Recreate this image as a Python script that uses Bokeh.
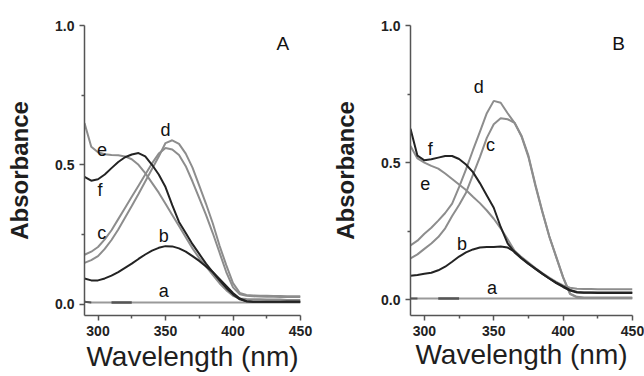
from bokeh.plotting import figure
from bokeh.layouts import row
from bokeh.models import FixedTicker, PrintfTickFormatter, Label, Range1d
from bokeh.embed import file_html
from bokeh.resources import INLINE

# ---------------- data ----------------
wavelength = [290, 295, 300, 305, 310, 315, 320, 325, 330, 335, 340, 345, 350,
              355, 360, 365, 370, 375, 380, 385, 390, 395, 400, 405, 410, 415,
              420, 425, 430, 435, 440, 445, 450]

# Panel A
a_A = [0.008, 0.006, 0.006, 0.006, 0.006, 0.006, 0.006, 0.006, 0.006, 0.006, 0.006,
       0.006, 0.006, 0.006, 0.006, 0.006, 0.006, 0.006, 0.006, 0.006, 0.006, 0.006,
       0.006, 0.006, 0.006, 0.006, 0.006, 0.006, 0.006, 0.006, 0.006, 0.006, 0.006]
b_A = [0.092, 0.085, 0.085, 0.092, 0.102, 0.115, 0.130, 0.145, 0.162, 0.178, 0.192,
       0.202, 0.208, 0.207, 0.200, 0.188, 0.172, 0.155, 0.135, 0.115, 0.090, 0.065,
       0.040, 0.020, 0.010, 0.008, 0.008, 0.008, 0.008, 0.008, 0.008, 0.008, 0.008]
c_A = [0.177, 0.188, 0.205, 0.232, 0.265, 0.305, 0.345, 0.385, 0.425, 0.465, 0.505,
       0.540, 0.560, 0.555, 0.535, 0.495, 0.440, 0.380, 0.320, 0.255, 0.185, 0.115,
       0.060, 0.035, 0.030, 0.028, 0.027, 0.026, 0.026, 0.025, 0.025, 0.025, 0.025]
d_A = [0.148, 0.158, 0.172, 0.198, 0.230, 0.268, 0.310, 0.352, 0.395, 0.440, 0.485,
       0.530, 0.578, 0.588, 0.575, 0.540, 0.490, 0.425, 0.360, 0.290, 0.210, 0.140,
       0.075, 0.040, 0.033, 0.031, 0.030, 0.030, 0.029, 0.029, 0.028, 0.028, 0.028]
e_A = [0.650, 0.565, 0.545, 0.538, 0.535, 0.534, 0.530, 0.520, 0.500, 0.470, 0.435,
       0.400, 0.360, 0.320, 0.280, 0.240, 0.200, 0.165, 0.135, 0.105, 0.075, 0.050,
       0.030, 0.020, 0.018, 0.017, 0.017, 0.016, 0.016, 0.016, 0.015, 0.015, 0.015]
f_A = [0.457, 0.443, 0.448, 0.465, 0.488, 0.510, 0.527, 0.537, 0.542, 0.530, 0.500,
       0.465, 0.420, 0.355, 0.295, 0.255, 0.215, 0.180, 0.145, 0.115, 0.085, 0.058,
       0.035, 0.017, 0.010, 0.008, 0.008, 0.008, 0.008, 0.008, 0.008, 0.008, 0.008]

# Panel B
a_B = [0.004, 0.004, 0.004, 0.004, 0.004, 0.004, 0.004, 0.004, 0.004, 0.004, 0.004,
       0.004, 0.004, 0.004, 0.004, 0.004, 0.004, 0.004, 0.004, 0.004, 0.004, 0.004,
       0.004, 0.004, 0.004, 0.004, 0.004, 0.004, 0.004, 0.004, 0.004, 0.004, 0.004]
b_B = [0.087, 0.090, 0.094, 0.098, 0.107, 0.120, 0.138, 0.157, 0.172, 0.183, 0.190,
       0.192, 0.192, 0.194, 0.190, 0.175, 0.152, 0.132, 0.112, 0.094, 0.077, 0.060,
       0.046, 0.033, 0.026, 0.025, 0.025, 0.024, 0.024, 0.024, 0.024, 0.024, 0.024]
c_B = [0.150, 0.165, 0.185, 0.205, 0.228, 0.260, 0.305, 0.345, 0.390, 0.455, 0.520,
       0.590, 0.640, 0.662, 0.658, 0.645, 0.595, 0.520, 0.415, 0.320, 0.230, 0.155,
       0.080, 0.020, 0.008, 0.006, 0.006, 0.006, 0.006, 0.006, 0.006, 0.006, 0.006]
d_B = [0.198, 0.215, 0.240, 0.262, 0.288, 0.316, 0.350, 0.410, 0.475, 0.545, 0.612,
       0.680, 0.725, 0.718, 0.680, 0.645, 0.598, 0.525, 0.420, 0.322, 0.232, 0.157,
       0.082, 0.022, 0.010, 0.008, 0.008, 0.008, 0.008, 0.008, 0.008, 0.008, 0.008]
e_B = [0.560, 0.515, 0.500, 0.488, 0.478, 0.460, 0.440, 0.420, 0.400, 0.375, 0.352,
       0.325, 0.295, 0.260, 0.220, 0.178, 0.155, 0.135, 0.115, 0.097, 0.080, 0.065,
       0.052, 0.043, 0.040, 0.039, 0.039, 0.038, 0.038, 0.038, 0.038, 0.038, 0.038]
f_B = [0.623, 0.525, 0.508, 0.512, 0.518, 0.524, 0.524, 0.513, 0.493, 0.465, 0.425,
       0.380, 0.335, 0.265, 0.205, 0.172, 0.150, 0.130, 0.113, 0.095, 0.077, 0.062,
       0.048, 0.035, 0.028, 0.026, 0.026, 0.026, 0.026, 0.026, 0.026, 0.026, 0.026]

x_ticks = [300, 350, 400, 450]
x_minor = [325, 375, 425]
y_ticks = [0.0, 0.5, 1.0]
y_minor = [0.25, 0.75]

curve_names = ["a", "b", "c", "d", "e", "f"]
# label anchor points (wavelength, absorbance) for each curve letter
labels_A = {"a": (348.8, 0.046), "b": (348.8, 0.245), "c": (302.7, 0.256),
            "d": (350.0, 0.626), "e": (303.0, 0.555), "f": (301.5, 0.408)}
labels_B = {"a": (348.8, 0.042), "b": (327.2, 0.204), "c": (347.6, 0.563),
            "d": (339.2, 0.777), "e": (300.7, 0.425), "f": (304.3, 0.551)}
panel_A = ("A", 437.0, 0.935)
panel_B = ("B", 440.0, 0.935)

GRAY = "#8d8d8d"
DARK = "#232323"
FONT = "Liberation Sans"


def make_panel(series, labels, panel, y_start, width, border_left, border_right,
               border_top, border_bottom, xlabel_standoff):
    p = figure(width=width, height=376, output_backend="svg", toolbar_location=None,
               x_range=Range1d(290, 450), y_range=Range1d(y_start, 1.0),
               min_border_left=border_left, min_border_right=border_right,
               min_border_top=border_top, min_border_bottom=border_bottom)
    p.outline_line_color = None
    p.grid.visible = False
    p.background_fill_color = "white"

    a, b, c, d, e, f = series
    p.line(wavelength, a, line_color="#9a9a9a", line_width=2)
    p.line(wavelength[4:8], a[4:8], line_color="#555555", line_width=2.5)
    p.line(wavelength[0:2], a[0:2], line_color="#555555", line_width=2)
    for ys in (c, d, e):
        p.line(wavelength, ys, line_color=GRAY, line_width=2)
    for ys in (b, f):
        p.line(wavelength, ys, line_color=DARK, line_width=2)

    for name in curve_names:
        lx, ly = labels[name]
        p.add_layout(Label(x=lx, y=ly, text=name, text_align="center",
                           text_baseline="middle", text_font=FONT,
                           text_font_size="18px", text_color="#111111"))
    p.add_layout(Label(x=panel[1], y=panel[2], text=panel[0], text_align="center",
                       text_baseline="middle", text_font=FONT,
                       text_font_size="19px", text_color="#111111"))

    p.xaxis.ticker = FixedTicker(ticks=x_ticks, minor_ticks=x_minor)
    p.yaxis.ticker = FixedTicker(ticks=y_ticks, minor_ticks=y_minor)
    p.yaxis.formatter = PrintfTickFormatter(format="%.1f")
    for ax in (p.xaxis, p.yaxis):
        ax.axis_line_color = "#555555"
        ax.axis_line_width = 1.5
        ax.major_tick_line_color = "#555555"
        ax.major_tick_line_width = 1.5
        ax.minor_tick_line_color = "#555555"
        ax.minor_tick_line_width = 1.5
        ax.major_tick_in = 0
        ax.major_tick_out = 5
        ax.minor_tick_in = 0
        ax.minor_tick_out = 3
        ax.major_label_text_font = FONT
        ax.major_label_text_font_style = "bold"
        ax.major_label_text_font_size = "14px"
        ax.major_label_text_color = "#222222"
        ax.major_label_standoff = 5
        ax.axis_label_text_font = FONT
        ax.axis_label_text_color = "#1e1e1e"
    p.yaxis.axis_label = "Absorbance"
    p.yaxis.axis_label_text_font_style = "bold"
    p.yaxis.axis_label_text_font_size = "24px"
    p.yaxis.axis_label_standoff = 19
    p.xaxis.axis_label = "Wavelength (nm)"
    p.xaxis.axis_label_text_font_style = "normal"
    p.xaxis.axis_label_text_font_size = "28px"
    p.xaxis.axis_label_standoff = xlabel_standoff
    return p


pA = make_panel((a_A, b_A, c_A, d_A, e_A, f_A), labels_A, panel_A, -0.041,
                322, 84, 22, 23, 61, 2)
pB = make_panel((a_B, b_B, c_B, d_B, e_B, f_B), labels_B, panel_B, -0.058,
                322, 88, 12, 25, 57, 0)

layout = row(pA, pB)
open("out.html", "w").write(file_html(layout, INLINE))
